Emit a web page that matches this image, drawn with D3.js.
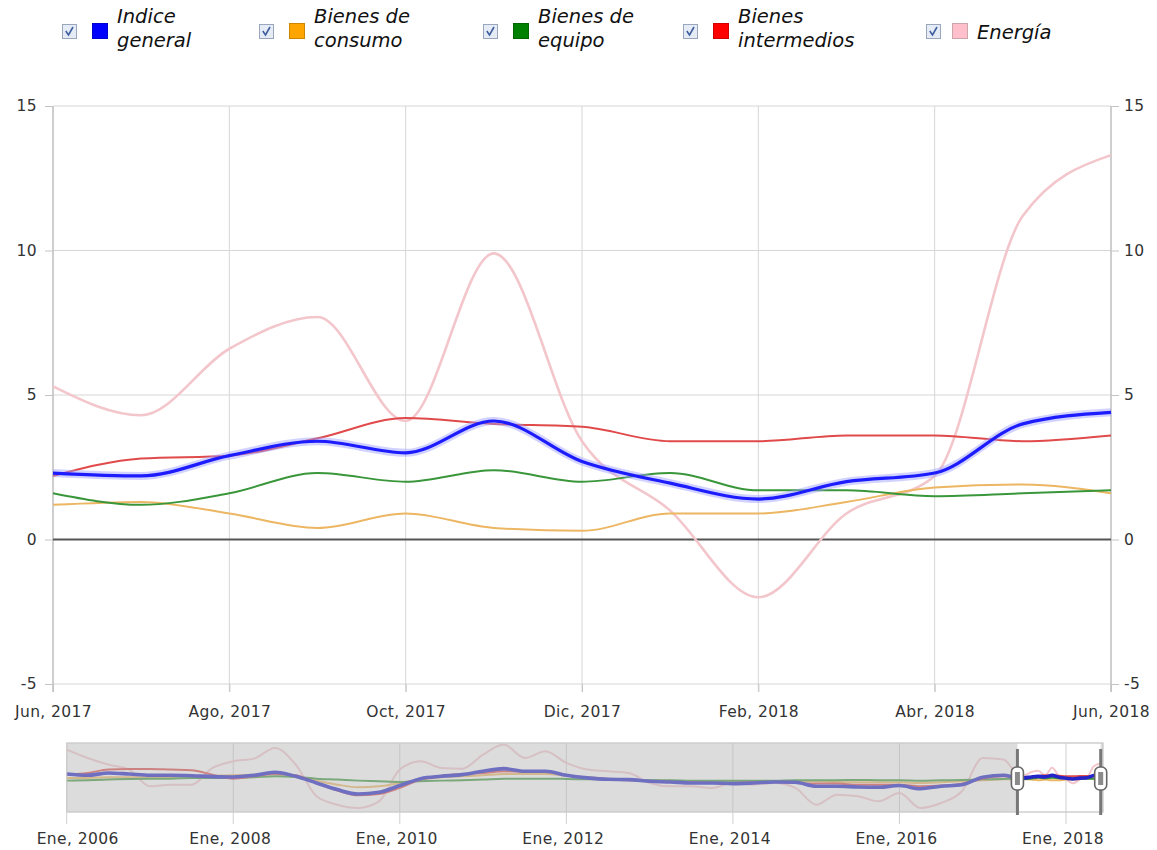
<!DOCTYPE html>
<html>
<head>
<meta charset="utf-8">
<script src="https://cdn.jsdelivr.net/npm/d3@7"></script>
<style>
  html, body { margin: 0; padding: 0; background: #fff; }
  svg { display: block; }
</style>
</head>
<body>
<svg id="chart" width="1157" height="850"></svg>
<script>
// ---------- DATA ----------
const seriesNames = ["Indice general", "Bienes de consumo", "Bienes de equipo", "Bienes intermedios", "Energía"];
const legendLines = [["Indice", "general"], ["Bienes de", "consumo"], ["Bienes de", "equipo"], ["Bienes", "intermedios"], ["Energía"]];
const seriesColors = ["#0000ff", "#ffa500", "#008000", "#ff0000", "#ffc0cb"];
const lineColors = ["#1c1cff", "#ecb663", "#3a963a", "#e14a4a", "#f3c6cc"];

// main window: monthly, Jun 2017 .. Jun 2018
const mainStart = "2017-06";
const xTickLabels = ["Jun, 2017", "Ago, 2017", "Oct, 2017", "Dic, 2017", "Feb, 2018", "Abr, 2018", "Jun, 2018"];
const yTicks = [-5, 0, 5, 10, 15];

const indiceGeneral     = [2.3, 2.2, 2.9, 3.4, 3.0, 4.1, 2.7, 1.95, 1.4, 2.0, 2.3, 4.0, 4.4];
const bienesConsumo     = [1.2, 1.3, 0.9, 0.4, 0.9, 0.4, 0.3, 0.9, 0.9, 1.3, 1.8, 1.9, 1.6];
const bienesEquipo      = [1.6, 1.2, 1.6, 2.3, 2.0, 2.4, 2.0, 2.3, 1.7, 1.7, 1.5, 1.6, 1.7];
const bienesIntermedios = [2.2, 2.8, 2.9, 3.5, 4.2, 4.0, 3.9, 3.4, 3.4, 3.6, 3.6, 3.4, 3.6];
const energia           = [5.3, 4.3, 6.6, 7.7, 4.1, 9.9, 3.4, 1.0, -2.0, 0.9, 2.2, 11.2, 13.3];

// navigator history: quarterly, Jan 2006 .. Apr 2017
const navStart = "2006-01";
const navEnd = "2018-06";
const navTickLabels = ["Ene, 2006", "Ene, 2008", "Ene, 2010", "Ene, 2012", "Ene, 2014", "Ene, 2016", "Ene, 2018"];
const histIndiceGeneral = [5.2, 4.2, 6.0, 5.2, 4.2, 4.2, 3.9, 3.2, 2.9, 4.2, 6.5, 3.4, -1.7, -6.8, -10.2, -8.9, -3.7, 1.6, 3.4, 4.7, 7.3, 9.3, 7.3,
  7.3, 4.2, 2.2, 1.1, 0.9, -0.4, -0.9, -1.7, -1.7, -2.2, -1.7, -0.9, -1.2, -4.2, -4.2, -4.8, -5.0, -3.7, -6.1, -4.2, -3.0, 2.7, 4.2];
const histBienesConsumo = [2.2, 2.2, 2.7, 2.7, 2.7, 2.9, 3.4, 3.9, 4.2, 4.7, 5.2, 3.4, 0.1, -3.0, -5.0, -4.3, -1.7, 0.9, 2.7, 3.4, 4.2, 5.2, 5.2,
  5.2, 3.9, 2.7, 1.6, 0.9, 0.4, 0.1, -0.4, -0.9, -0.9, -1.2, -0.9, -0.4, -0.4, -0.9, -1.2, -1.2, -1.2, -1.7, -1.2, -0.4, 0.4, 1.1];
const histBienesEquipo = [0.1, 0.4, 0.9, 1.4, 1.6, 1.6, 2.2, 2.2, 2.2, 2.7, 3.4, 2.9, 1.6, 0.9, 0.1, -0.4, -0.9, -0.4, 0.1, 0.4, 0.9, 1.6, 1.6,
  1.6, 1.4, 1.1, 0.9, 0.6, 0.4, 0.4, 0.1, 0.1, 0.1, 0.1, 0.1, 0.4, 0.4, 0.4, 0.6, 0.4, 0.4, 0.1, 0.4, 0.6, 1.1, 1.4];
const histBienesIntermedios = [4.7, 6.0, 8.6, 9.1, 9.1, 8.6, 8.1, 4.7, 1.6, 3.4, 5.2, 4.2, -1.7, -7.6, -11.2, -10.2, -5.5, 0.9, 3.9, 5.2, 6.0, 7.3, 6.8,
  6.8, 4.2, 2.2, 0.9, 0.4, -0.4, -0.9, -1.2, -1.7, -1.7, -1.2, -0.9, -1.7, -2.2, -2.2, -3.0, -3.0, -3.0, -4.2, -3.7, -2.2, 1.6, 3.4];
const histEnergia = [23.9, 17.5, 12.4, 8.6, -4.3, -3.0, -3.0, 9.8, 15.0, 17.0, 25.2, 12.4, -11.9, -18.4, -20.9, -15.8, 8.6, 15.0, 9.8, 9.3, 20.1, 27.8, 17.5,
  22.7, 13.7, 8.6, 7.3, 6.0, -1.7, -4.3, -4.3, -5.5, -1.7, -3.0, -1.7, -5.5, -18.4, -10.7, -11.9, -15.8, -9.4, -20.9, -17.1, -8.1, 17.5, 16.3];

// ---------- BUILD ----------
const parseM = d3.timeParse("%Y-%m");
const mainSeries = [indiceGeneral, bienesConsumo, bienesEquipo, bienesIntermedios, energia];
const histSeries = [histIndiceGeneral, histBienesConsumo, histBienesEquipo, histBienesIntermedios, histEnergia];
const m0 = parseM(mainStart), n0 = parseM(navStart), nEnd = parseM(navEnd);

const svg = d3.select("#chart");
const font = '"DejaVu Sans", Verdana, sans-serif';

// main scales
const L = 53, R = 1111, T = 106, B = 684;
const x = d3.scaleLinear().domain([0, 12]).range([L, R]);
const y = d3.scaleLinear().domain([-5, 15]).range([B, T]);

// grid
const g = svg.append("g");
g.selectAll(".hg").data(yTicks).join("line")
  .attr("x1", L).attr("x2", R).attr("y1", d => y(d)).attr("y2", d => y(d))
  .attr("stroke", "#d6d6d6").attr("stroke-width", 1);
g.selectAll(".vg").data(d3.range(0, 13, 2)).join("line")
  .attr("x1", d => x(d)).attr("x2", d => x(d)).attr("y1", T).attr("y2", B + 8)
  .attr("stroke", "#d6d6d6").attr("stroke-width", 1);

// axes
const fmtY = d => String(d);
const axL = svg.append("g").attr("transform", `translate(${L},0)`)
  .call(d3.axisLeft(y).tickValues(yTicks).tickSize(8).tickPadding(8).tickFormat(fmtY));
const axR = svg.append("g").attr("transform", `translate(${R},0)`)
  .call(d3.axisRight(y).tickValues(yTicks).tickSize(8).tickPadding(5).tickFormat(fmtY));
const axB = svg.append("g").attr("transform", `translate(0,${B})`)
  .call(d3.axisBottom(x).tickValues(d3.range(0, 13, 2)).tickSize(8).tickPadding(14).tickFormat((d, i) => xTickLabels[i]));
[axL, axR, axB].forEach(a => {
  a.select(".domain").attr("stroke", "#c4c4c4").attr("stroke-width", 1.5);
  a.selectAll(".tick line").attr("stroke", "#c4c4c4");
  a.selectAll(".tick text").style("font-family", font).style("font-size", "15.5px")
    .style("letter-spacing", "0.4px").attr("fill", "#333");
});
axL.select(".domain").attr("d", `M0,${T}V${B + 8}`);
axR.select(".domain").attr("d", `M0,${T}V${B + 8}`);
axB.select(".domain").remove();

// zero line
svg.append("line").attr("x1", L).attr("x2", R).attr("y1", y(0)).attr("y2", y(0))
  .attr("stroke", "#555").attr("stroke-width", 2);

// lines
const line = d3.line().x((d, i) => x(i)).y(d => y(d)).curve(d3.curveMonotoneX);
const order = [4, 1, 2, 3, 0];
order.forEach(k => {
  if (k === 0) {
    svg.append("path").attr("d", line(mainSeries[k])).attr("fill", "none")
      .attr("stroke", "#9c9cff").attr("stroke-opacity", 0.45).attr("stroke-width", 8);
    svg.append("path").attr("d", line(mainSeries[k])).attr("fill", "none")
      .attr("stroke", lineColors[k]).attr("stroke-width", 3.2);
  } else {
    svg.append("path").attr("d", line(mainSeries[k])).attr("fill", "none")
      .attr("stroke", lineColors[k]).attr("stroke-width", k === 4 ? 2.6 : 2);
  }
});

// legend
const legX = [62, 259, 483, 683, 926];
const lg = svg.append("g");
seriesNames.forEach((name, i) => {
  const gx = legX[i];
  const it = lg.append("g").attr("transform", `translate(${gx},0)`);
  it.append("rect").attr("x", 0.5).attr("y", 24.5).attr("width", 14).attr("height", 14)
    .attr("fill", "#e6ecf6").attr("stroke", "#9aa6bd");
  it.append("path").attr("d", "M3.8,31 L6.5,35 L11,27").attr("fill", "none")
    .attr("stroke", "#3f5f9f").attr("stroke-width", 1.6);
  const sw = i === 4 ? 26 : 30;
  it.append("rect").attr("x", sw + 0.5).attr("y", 23.5).attr("width", 15).attr("height", 15)
    .attr("fill", seriesColors[i]).attr("stroke", i === 4 ? "#c9a6ac" : d3.color(seriesColors[i]).darker(0.6));
  const tx = sw + 25;
  const lines = legendLines[i];
  const t = it.append("text").attr("x", tx).style("font-family", font).style("font-size", "19.5px")
    .style("font-style", "italic").attr("fill", "#111");
  if (lines.length === 1) {
    t.append("tspan").attr("x", tx).attr("y", 39).text(lines[0]);
  } else {
    t.append("tspan").attr("x", tx).attr("y", 23).text(lines[0]);
    t.append("tspan").attr("x", tx).attr("y", 47).text(lines[1]);
  }
});

// ---------- NAVIGATOR ----------
const NL = 66.7, NT = 743, NB = 812;
const totalMonths = d3.timeMonth.count(n0, nEnd);
const nx = d3.scaleLinear().domain([0, totalMonths]).range([NL, 1100.7]);
const ny = d3.scaleLinear().domain([-24, 29]).range([NB, NT]);
const nav = svg.append("g");
nav.append("rect").attr("x", NL).attr("y", NT).attr("width", 1103 - NL).attr("height", NB - NT)
  .attr("fill", "#fff").attr("stroke", "#cfcfcf");
const navTickM = d3.range(0, totalMonths + 1, 24);
nav.selectAll(".ng").data(navTickM).join("line")
  .attr("x1", d => nx(d)).attr("x2", d => nx(d)).attr("y1", NT).attr("y2", NB + 12)
  .attr("stroke", "#cfcfcf");

const mainOffset = d3.timeMonth.count(n0, m0);
const navLine = d3.line().x(d => nx(d.m)).y(d => ny(d.v)).curve(d3.curveMonotoneX);
const navData = histSeries.map((h, k) => {
  const pts = h.map((v, i) => ({ m: i * 3, v }));
  mainSeries[k].forEach((v, i) => pts.push({ m: mainOffset + i, v }));
  return pts;
});
order.forEach(k => {
  nav.append("path").attr("d", navLine(navData[k])).attr("fill", "none")
    .attr("stroke", k === 0 ? "#2424c8" : lineColors[k])
    .attr("stroke-width", k === 0 ? 3.6 : 2);
});

// mask
const hL = nx(mainOffset), hR = nx(mainOffset + 12);
nav.append("rect").attr("x", NL).attr("y", NT).attr("width", hL - NL).attr("height", NB - NT)
  .attr("fill", "#b9b9b9").attr("fill-opacity", 0.5);
nav.append("rect").attr("x", hR).attr("y", NT).attr("width", 1103 - hR).attr("height", NB - NT)
  .attr("fill", "#b9b9b9").attr("fill-opacity", 0.5);
nav.append("rect").attr("x", NL).attr("y", NT).attr("width", 1103 - NL).attr("height", NB - NT)
  .attr("fill", "none").attr("stroke", "#cfcfcf");

// handles
[hL, hR].forEach(hx => {
  nav.append("line").attr("x1", hx).attr("x2", hx).attr("y1", 749).attr("y2", 815)
    .attr("stroke", "#777").attr("stroke-width", 3);
  nav.append("rect").attr("x", hx - 6).attr("y", 767).attr("width", 12).attr("height", 23).attr("rx", 5)
    .attr("fill", "#fff").attr("stroke", "#666").attr("stroke-width", 1.6);
  nav.append("rect").attr("x", hx - 2.5).attr("y", 772).attr("width", 5).attr("height", 13)
    .attr("fill", "#8a8a8a");
});

// navigator labels
nav.selectAll(".nl").data(navTickM).join("text")
  .attr("x", (d, i) => i === 0 ? nx(d) + 11 : nx(d) - 3)
  .attr("y", 844).attr("text-anchor", "middle")
  .style("font-family", font).style("font-size", "15.5px").style("letter-spacing", "0.4px").attr("fill", "#333")
  .text((d, i) => navTickLabels[i]);
</script>
</body>
</html>
